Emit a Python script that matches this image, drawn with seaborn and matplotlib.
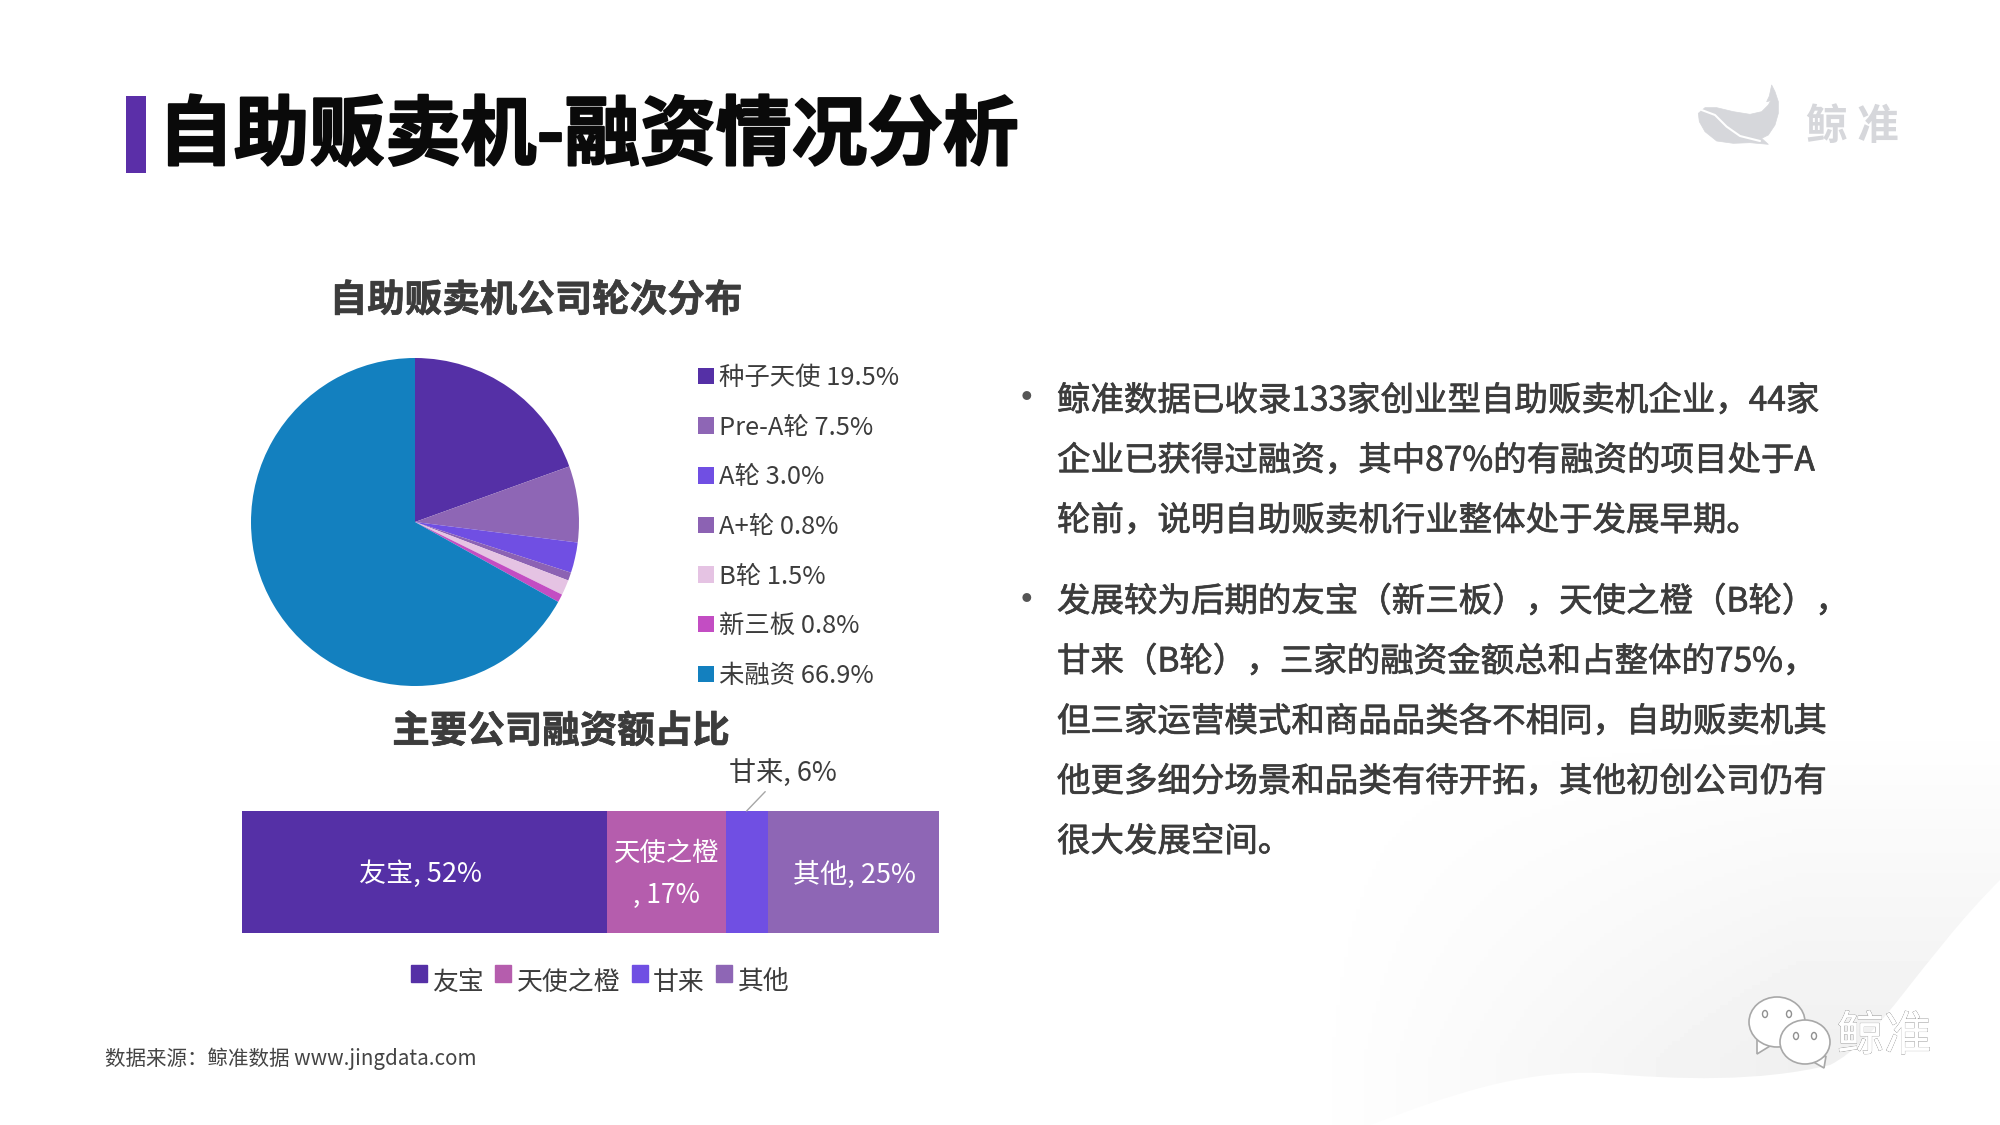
import matplotlib
matplotlib.use("Agg")
import matplotlib.pyplot as plt
import matplotlib.patheffects as pe
from matplotlib.legend_handler import HandlerPatch
from matplotlib.patches import Ellipse, PathPatch, Patch, Polygon, Rectangle
from matplotlib.path import Path
import numpy as np
import seaborn as sns

W, H = 2000, 1125

# pie data
round_names = ["种子天使", "Pre-A轮", "A轮", "A+轮", "B轮", "新三板", "未融资"]
round_shares = [19.5, 7.5, 3.0, 0.8, 1.5, 0.8, 66.9]
round_colors = ["#5530A6", "#8E66B5", "#704FE3", "#8C62B3", "#E5C3E3", "#C34DC3", "#1380BF"]

# stacked bar data (labels round to 52/17/6/25)
company_names = ["友宝", "天使之橙", "甘来", "其他"]
company_shares = [52.4, 17.0, 6.0, 24.6]
company_colors = ["#5530A6", "#B55DAD", "#704FE3", "#8E66B5"]

# right hand text
para_1 = [
    "鲸准数据已收录133家创业型自助贩卖机企业，44家",
    "企业已获得过融资，其中87%的有融资的项目处于A",
    "轮前，说明自助贩卖机行业整体处于发展早期。",
]
para_2 = [
    "发展较为后期的友宝（新三板），天使之橙（B轮），",
    "甘来（B轮），三家的融资金额总和占整体的75%，",
    "但三家运营模式和商品品类各不相同，自助贩卖机其",
    "他更多细分场景和品类有待开拓，其他初创公司仍有",
    "很大发展空间。",
]

DARK = "#3C3C3C"
LOGO = "#D6D7DB"

sns.set_theme(style="white")
plt.rcParams["font.family"] = ["Noto Sans CJK SC", "DejaVu Sans"]

# thin stroke to get the heavier look of the slide font
semi = [pe.withStroke(linewidth=0.5, foreground=DARK)]


def px_axes(fig, left, top, right, bottom):
    return fig.add_axes([left / W, 1 - bottom / H, (right - left) / W, (bottom - top) / H])


def raised_square(legend, orig_handle, xdescent, ydescent, width, height, fontsize):
    return Rectangle((-xdescent, -ydescent + 5), width, height)


fig = plt.figure(figsize=(20, 11.25), dpi=100, facecolor="white")

# slide background, drawn in pixel coordinates
bg = fig.add_axes([0, 0, 1, 1], zorder=0)
bg.set_xlim(0, W)
bg.set_ylim(H, 0)
bg.axis("off")

xx, yy = np.meshgrid(np.linspace(0, W, 500), np.linspace(0, H, 281))
fade = np.clip((xx - 1300) / 500, 0, 1) * np.clip((yy - 720) / 340, 0, 1)
img = bg.imshow(1 - 0.06 * fade, extent=(0, W, H, 0), cmap="gray", vmin=0, vmax=1,
                aspect="auto", zorder=0)
swoosh = Path(
    [(1370, 1125), (1450, 1095), (1520, 1070), (1600, 1073), (1680, 1080), (1760, 1082),
     (1830, 1065), (1880, 1040), (1920, 960), (2000, 880), (2000, 500), (1100, 500),
     (1100, 1125), (1370, 1125)],
    [Path.MOVETO, Path.CURVE4, Path.CURVE4, Path.CURVE4, Path.CURVE4, Path.CURVE4,
     Path.CURVE4, Path.CURVE4, Path.CURVE4, Path.CURVE4, Path.LINETO, Path.LINETO,
     Path.LINETO, Path.CLOSEPOLY],
)
clip = PathPatch(swoosh, transform=bg.transData, facecolor="none", edgecolor="none")
bg.add_patch(clip)
img.set_clip_path(clip)

# title
bg.add_patch(Rectangle((126, 96), 20, 77, facecolor="#5B2FA8", edgecolor="none"))
bg.text(158, 136, "自助贩卖机-融资情况分析", fontsize=54.5, fontweight="bold", color="#0A0A0A",
        va="center", ha="left",
        path_effects=[pe.withStroke(linewidth=1.5, foreground="#0A0A0A")])

# whale logo top right
whale_zoom = [(145, 160), (165, 143), (200, 143), (250, 155), (300, 163), (335, 155), (355, 135),
              (362, 122), (350, 125), (358, 108), (365, 75), (375, 95), (385, 125), (385, 160),
              (375, 195), (355, 225), (335, 235), (355, 253), (300, 248), (250, 250), (200, 243),
              (165, 215), (148, 185)]
bg.add_patch(Polygon([(1650 + x / 3, 60 + y / 3) for x, y in whale_zoom],
                     facecolor=LOGO, edgecolor=LOGO, linewidth=0.5, joinstyle="round"))
belly_zoom = [(155, 150), (195, 165), (230, 200), (270, 228), (330, 243)]
bg.plot([1650 + x / 3 for x, y in belly_zoom], [60 + y / 3 for x, y in belly_zoom],
        color="white", lw=1.5)
bg.text(1806, 127, "鲸 准", fontsize=30, fontweight="bold", color=LOGO, va="center", ha="left")

# wechat mark bottom right
bubble_edge = {"facecolor": "white", "edgecolor": "#A8A8A8", "linewidth": 1.2}
bg.add_patch(Polygon([(1757, 1038), (1770, 1046), (1757, 1054)], **bubble_edge))
bg.add_patch(Ellipse((1777, 1022), 56, 50, **bubble_edge))
bg.add_patch(Polygon([(1810, 1060), (1826, 1056), (1824, 1068)], **bubble_edge))
bg.add_patch(Ellipse((1805, 1042), 50, 44, **bubble_edge))
for ex, ey in [(1765, 1014), (1789, 1014), (1796, 1036), (1814, 1036)]:
    bg.add_patch(Ellipse((ex, ey), 5, 7, facecolor="white", edgecolor="#909090", linewidth=1))
bg.text(1837, 1037, "鲸准", fontsize=34, color="white", va="center", ha="left",
        path_effects=[pe.withStroke(linewidth=0.6, foreground="#808080"), pe.Normal()])

# section titles
bg.text(536, 300, "自助贩卖机公司轮次分布", fontsize=27, fontweight="bold", color=DARK,
        ha="center", va="center", path_effects=semi)
bg.text(561, 731, "主要公司融资额占比", fontsize=27, fontweight="bold", color=DARK,
        ha="center", va="center", path_effects=semi)

# pie
ax_pie = px_axes(fig, 251, 358, 579, 686)
ax_pie.set_zorder(1)
wedges, _ = ax_pie.pie(round_shares, colors=round_colors, startangle=90, counterclock=False,
                       radius=1.0, wedgeprops={"linewidth": 0})
ax_pie.set_xlim(-1, 1)
ax_pie.set_ylim(-1, 1)
ax_pie.legend(
    wedges,
    [f"{n} {v:.1f}%" for n, v in zip(round_names, round_shares)],
    loc="upper left",
    bbox_to_anchor=(698 / W, 1 - 365 / H),
    bbox_transform=fig.transFigure,
    frameon=False,
    fontsize=18.3,
    labelcolor=DARK,
    handlelength=0.62,
    handleheight=0.62,
    handletextpad=0.2,
    labelspacing=0.93,
    borderpad=0,
    borderaxespad=0,
)

# stacked bar
ax_bar = px_axes(fig, 242, 811, 939, 933)
ax_bar.set_zorder(1)
left = 0
for name, share, color in zip(company_names, company_shares, company_colors):
    sns.barplot(x=[share], y=["融资额"], color=color, saturation=1, width=1, left=left,
                ax=ax_bar, linewidth=0)
    center = left + share / 2
    if name == "甘来":
        ax_bar.annotate(f"{name}, {share:.0f}%", xy=(center, -0.5), xytext=(26, 17),
                        textcoords="offset points", fontsize=19.5, color=DARK, ha="center",
                        va="bottom", annotation_clip=False,
                        arrowprops={"arrowstyle": "-", "color": "#A6A6A6", "lw": 1,
                                    "shrinkA": 1, "shrinkB": 0})
    elif name == "天使之橙":
        ax_bar.text(center, 0.02, f"{name}\n, {share:.0f}%", fontsize=19, color="white",
                    ha="center", va="center", linespacing=1.7)
    elif name == "其他":
        ax_bar.text(center + 0.1, 0.02, f"{name}, {share:.0f}%", fontsize=19.5, color="white",
                    ha="center", va="center")
    else:
        ax_bar.text(center - 0.6, 0.02, f"{name}, {share:.0f}%", fontsize=19.5, color="white",
                    ha="center", va="center")
    left += share
ax_bar.set_xlim(0, sum(company_shares))
ax_bar.set_ylim(0.5, -0.5)
ax_bar.axis("off")
ax_bar.legend(
    [Patch(color=c) for c in company_colors],
    company_names,
    loc="center",
    bbox_to_anchor=(600 / W, 1 - 982 / H),
    bbox_transform=fig.transFigure,
    ncols=4,
    frameon=False,
    fontsize=18.6,
    labelcolor=DARK,
    handlelength=0.62,
    handleheight=0.62,
    handletextpad=0.2,
    columnspacing=0.45,
    borderpad=0,
    handler_map={Patch: HandlerPatch(patch_func=raised_square)},
)

# right hand bullets
line_y = [401, 461, 521]
for y, line in zip(line_y, para_1):
    bg.text(1057, y, line, fontsize=24.1, color=DARK, va="center", ha="left", path_effects=semi)
bg.text(1026, 400, "•", fontsize=30, color="#555555", va="center", ha="center")
line_y = [602, 662, 722, 782, 842]
for y, line in zip(line_y, para_2):
    bg.text(1057, y, line, fontsize=24.1, color=DARK, va="center", ha="left", path_effects=semi)
bg.text(1026, 601, "•", fontsize=30, color="#555555", va="center", ha="center")

# source
bg.text(105, 1059, "数据来源：鲸准数据 www.jingdata.com", fontsize=14.8, color="#444444",
        va="center", ha="left")

fig.savefig("out.png", dpi=100)
plt.close()
